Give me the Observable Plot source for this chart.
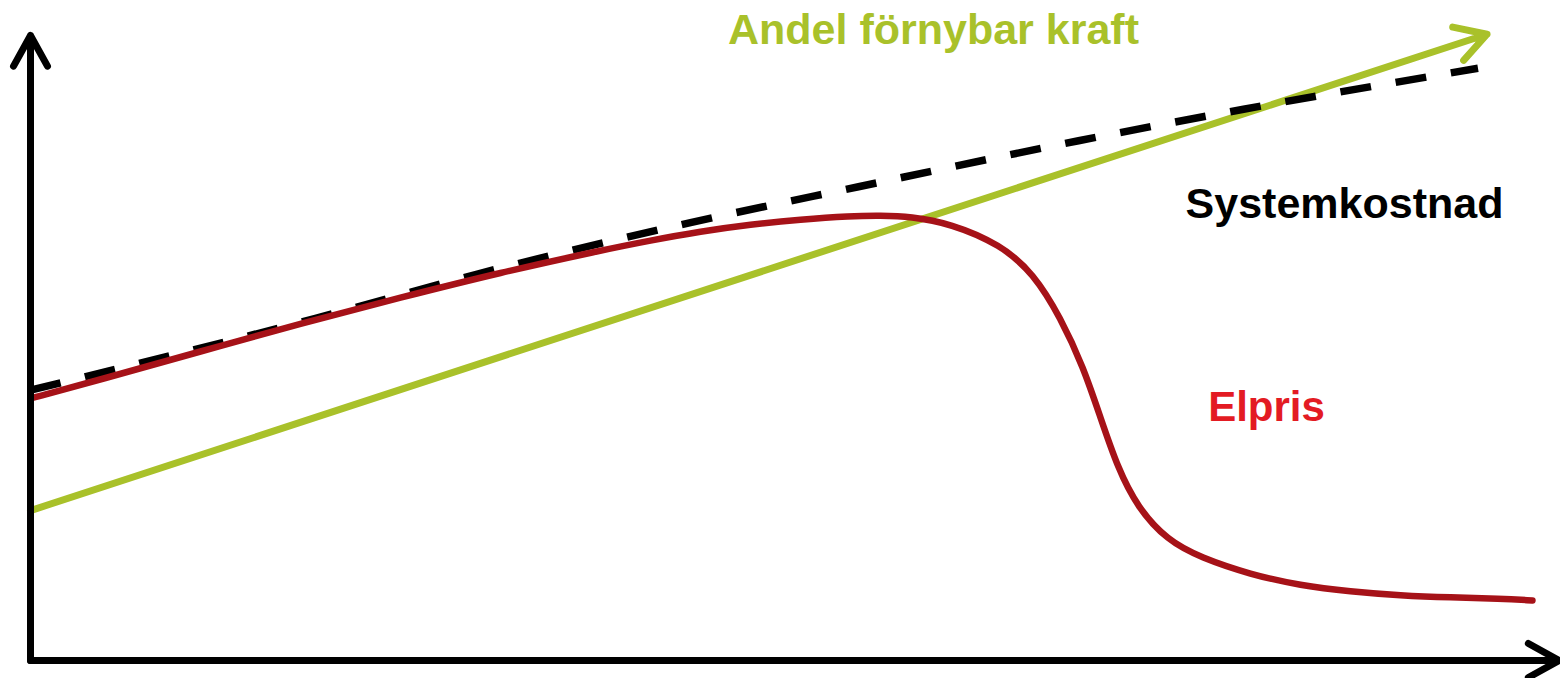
<!DOCTYPE html>
<html><head><meta charset="utf-8">
<script src="https://cdn.jsdelivr.net/npm/d3@7"></script>
<script src="https://cdn.jsdelivr.net/npm/@observablehq/plot@0.6"></script>
<style>html,body{margin:0;padding:0;background:#fff;overflow:hidden;}</style>
</head><body><div id="chart"></div>
<script>
// Elpris (electricity price) curve
const elprisX = [0, 4.67, 11.33, 18, 24.67, 31.33, 38, 41.33, 44.67, 48, 51.33, 54.67, 56.67, 58.67, 61.33, 64.67, 66.87, 68.67, 70.2, 71.33, 72.47, 73.8, 75.8, 78, 81.33, 84.67, 88, 91.33, 94.67, 98, 100.13];
const elprisY = [41.59, 44.6, 49.05, 53.49, 57.62, 61.59, 65.08, 66.67, 68.1, 69.21, 70.0, 70.56, 70.63, 70.48, 69.37, 66.03, 61.43, 54.44, 46.51, 38.57, 30.63, 24.29, 19.05, 16.35, 13.65, 11.9, 10.95, 10.32, 10.0, 9.84, 9.52];
// Systemkostnad (system cost) dashed curve
const systemX = [0, 19, 29.73, 44, 55.2, 69.87, 80.87, 96.5];
const systemY = [42.9, 54.3, 61.3, 69.5, 75.2, 82.5, 87.5, 94.0];
// Andel förnybar kraft (share of renewable power) arrow
const andelX = [0, 97.1];
const andelY = [23.8, 99.4];
// Axes extents
const axisXEnd = 101.9;
const axisYEnd = 99.2;
// Labels
const labelText = ["Andel förnybar kraft", "Systemkostnad", "Elpris"];
const labelX = [60.2, 87.6, 82.4];
const labelY = [99.97, 72.35, 40.2];
const labelSize = [43, 43, 42];
const labelColor = ["#a9c12a", "#000000", "#e31b23"];

const elpris = elprisX.map((x, i) => ({x, y: elprisY[i]}));
const system = systemX.map((x, i) => ({x, y: systemY[i]}));
const labels = labelText.map((t, i) => ({t, x: labelX[i], y: labelY[i], c: labelColor[i], s: labelSize[i]}));

const chart = Plot.plot({
  width: 1560,
  height: 678,
  marginLeft: 30,
  marginRight: 30,
  marginTop: 30,
  marginBottom: 18,
  x: {domain: [0, 100], axis: null},
  y: {domain: [0, 100], axis: null},
  style: {background: "#fff", overflow: "visible"},
  marks: [
    Plot.arrow([{x1: andelX[0], y1: andelY[0], x2: andelX[1], y2: andelY[1]}], {
      x1: "x1", y1: "y1", x2: "x2", y2: "y2",
      stroke: "#a9c12a", strokeWidth: 7, headLength: 7.5, headAngle: 60,
      strokeLinecap: "round", strokeLinejoin: "round"
    }),
    Plot.line(system, {x: "x", y: "y", curve: "monotone-x", stroke: "#000", strokeWidth: 7.5,
      strokeDasharray: "31,25", strokeLinecap: "butt"}),
    Plot.line(elpris, {x: "x", y: "y", curve: "basis", stroke: "#a61218", strokeWidth: 6.5}),
    Plot.arrow([{x1: 0, y1: 0, x2: 0, y2: axisYEnd}], {
      x1: "x1", y1: "y1", x2: "x2", y2: "y2",
      stroke: "#000", strokeWidth: 7, headLength: 7.5, headAngle: 58,
      strokeLinecap: "round", strokeLinejoin: "round"
    }),
    Plot.arrow([{x1: 0, y1: 0, x2: axisXEnd, y2: 0}], {
      x1: "x1", y1: "y1", x2: "x2", y2: "y2",
      stroke: "#000", strokeWidth: 7, headLength: 7.5, headAngle: 58,
      strokeLinecap: "round", strokeLinejoin: "round"
    }),
    Plot.text(labels, {x: "x", y: "y", text: "t", fill: "c", fontSize: "s", fontWeight: "bold",
      fontFamily: "Liberation Sans, Arial, sans-serif", textAnchor: "middle"})
  ]
});
document.getElementById("chart").appendChild(chart);
</script>
</body></html>
